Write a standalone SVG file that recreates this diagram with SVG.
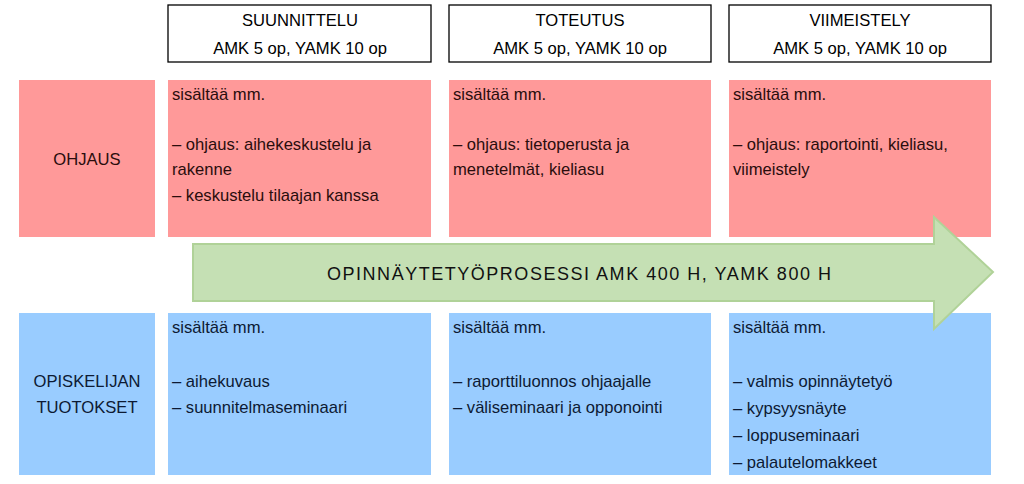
<svg xmlns="http://www.w3.org/2000/svg" width="1024" height="484" viewBox="0 0 1024 484">
<style>
text{font-family:"Liberation Sans",Arial,sans-serif;font-size:16.6px}
.hdr{fill:#fff;stroke:#000;stroke-width:1.3}
.red{fill:#ff9999}
.blue{fill:#99ccff}
.rt{fill:#2a0d0d}
.bt{fill:#0d1a33}
.ht{fill:#000;text-anchor:middle}
.c{text-anchor:middle}
</style>
<rect width="1024" height="484" fill="#fff"/>
<g id="hdr-suunnittelu"><rect class="hdr" x="168" y="5" width="263" height="57"/><text class="ht" x="300" y="26">SUUNNITTELU</text><text class="ht" x="300" y="54">AMK 5 op, YAMK 10 op</text></g>
<g id="hdr-toteutus"><rect class="hdr" x="449" y="5" width="262" height="57"/><text class="ht" x="580" y="26">TOTEUTUS</text><text class="ht" x="580" y="54">AMK 5 op, YAMK 10 op</text></g>
<g id="hdr-viimeistely"><rect class="hdr" x="729" y="5" width="262" height="57"/><text class="ht" x="860" y="26">VIIMEISTELY</text><text class="ht" x="860" y="54">AMK 5 op, YAMK 10 op</text></g>

<g id="ohjaus"><rect class="red" x="19" y="80" width="136" height="157"/><text class="rt c" x="87" y="165">OHJAUS</text></g>
<g id="ohjaus-1"><rect class="red" x="168" y="80" width="263" height="157"/>
<text class="rt" x="172" y="100">sisältää mm.</text>
<text class="rt" x="172" y="150">– ohjaus: aihekeskustelu ja</text>
<text class="rt" x="172" y="175">rakenne</text>
<text class="rt" x="172" y="201">– keskustelu tilaajan kanssa</text></g>
<g id="ohjaus-2"><rect class="red" x="449" y="80" width="262" height="157"/>
<text class="rt" x="453" y="100">sisältää mm.</text>
<text class="rt" x="453" y="150">– ohjaus: tietoperusta ja</text>
<text class="rt" x="453" y="175">menetelmät, kieliasu</text></g>
<g id="ohjaus-3"><rect class="red" x="729" y="80" width="262" height="157"/>
<text class="rt" x="733" y="100">sisältää mm.</text>
<text class="rt" x="733" y="150">– ohjaus: raportointi, kieliasu,</text>
<text class="rt" x="733" y="175">viimeistely</text></g>

<g id="tuotokset"><rect class="blue" x="19" y="313" width="136" height="162"/><text class="bt c" x="87" y="387">OPISKELIJAN</text><text class="bt c" x="87" y="413">TUOTOKSET</text></g>
<g id="tuotokset-1"><rect class="blue" x="168" y="313" width="263" height="162"/>
<text class="bt" x="172" y="333">sisältää mm.</text>
<text class="bt" x="172" y="387">– aihekuvaus</text>
<text class="bt" x="172" y="413">– suunnitelmaseminaari</text></g>
<g id="tuotokset-2"><rect class="blue" x="449" y="313" width="262" height="162"/>
<text class="bt" x="453" y="333">sisältää mm.</text>
<text class="bt" x="453" y="387">– raporttiluonnos ohjaajalle</text>
<text class="bt" x="453" y="413">– väliseminaari ja opponointi</text></g>
<g id="tuotokset-3"><rect class="blue" x="729" y="313" width="262" height="162"/>
<text class="bt" x="733" y="333">sisältää mm.</text>
<text class="bt" x="733" y="387">– valmis opinnäytetyö</text>
<text class="bt" x="733" y="414">– kypsyysnäyte</text>
<text class="bt" x="733" y="441">– loppuseminaari</text>
<text class="bt" x="733" y="468">– palautelomakkeet</text></g>

<g id="prosessi"><path d="M193,244 H934 V217 L993,272 L934,329 V301 H193 Z" fill="#c5e0b4" stroke="#b0d298" stroke-width="2" stroke-linejoin="miter"/>
<text x="327" y="280" style="font-size:18px;fill:#111" textLength="504" lengthAdjust="spacing">OPINNÄYTETYÖPROSESSI AMK 400 H, YAMK 800 H</text></g>
</svg>
